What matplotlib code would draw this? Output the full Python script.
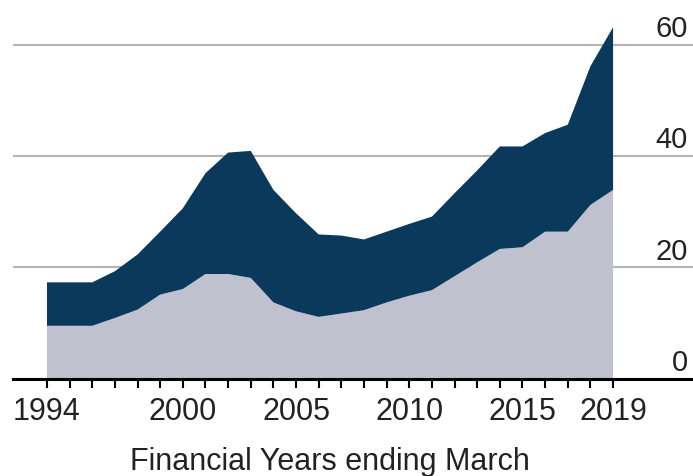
import matplotlib
matplotlib.use('Agg')
import matplotlib.pyplot as plt

plt.rcParams['font.family'] = ['Liberation Sans', 'DejaVu Sans']

# data
years = list(range(1994, 2020))
lower = [9.5, 9.5, 9.5, 10.9, 12.4, 15.1, 16.1, 18.8, 18.8, 18.1,
         13.7, 12.1, 11.1, 11.7, 12.3, 13.7, 14.9, 15.9, 18.4, 20.9,
         23.3, 23.6, 26.4, 26.4, 31.2, 33.9]
upper = [7.8, 7.8, 7.8, 8.4, 9.9, 11.3, 14.5, 18.1, 21.8, 22.8,
         20.2, 17.6, 14.8, 14.0, 12.7, 12.7, 12.9, 13.2, 14.9, 16.5,
         18.4, 18.1, 17.7, 19.2, 24.9, 29.2]
ytick_vals = [0, 20, 40, 60]
xtick_labels = {1994: '1994', 2000: '2000', 2005: '2005',
                2010: '2010', 2015: '2015', 2019: '2019'}

fig = plt.figure(figsize=(6.93, 4.76), dpi=100)
ax = fig.add_axes([13 / 693, 0.2044, 1 - 13 / 693, 0.7723])

ax.stackplot(years, lower, upper, colors=['#bfc1ce', '#0b395c'],
             linewidth=0, zorder=2)

ax.set_xlim(1992.5, 2022.53)
ax.set_ylim(0, 66)

# gridlines and right-hand labels
ax.set_yticks(ytick_vals)
ax.yaxis.grid(True, color='#b4b4b4', linewidth=1.5)
ax.set_axisbelow(True)
ax.tick_params(axis='y', left=False, labelleft=False)
for v in ytick_vals:
    ax.annotate(str(v), (2022.31, v), xytext=(0, 5.5), textcoords='offset points',
                ha='right', va='baseline', fontsize=21, color='#222222')

ax.set_xticks(years)
ax.set_xticklabels([xtick_labels.get(y, '') for y in years])
ax.tick_params(axis='x', direction='out', length=6.5, width=1.5, color='black',
               pad=7, labelsize=22, labelcolor='#222222')

for s in ['top', 'left', 'right']:
    ax.spines[s].set_visible(False)
ax.spines['bottom'].set_linewidth(2.2)
ax.spines['bottom'].set_color('black')
ax.spines['bottom'].set_zorder(5)

fig.text(330 / 693, 6 / 476, 'Financial Years ending March', ha='center',
         va='baseline', fontsize=22, color='#222222')

fig.savefig('out.png', dpi=100)
